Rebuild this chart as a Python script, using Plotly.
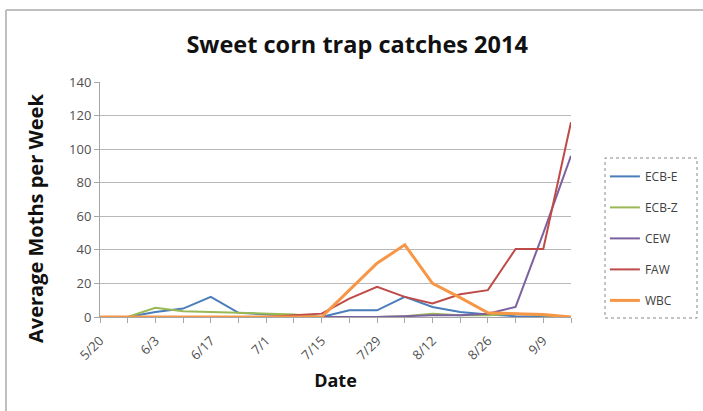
import plotly.graph_objects as go

dates = ["5/20", "5/27", "6/3", "6/10", "6/17", "6/24", "7/1", "7/8", "7/15",
         "7/22", "7/29", "8/5", "8/12", "8/19", "8/26", "9/2", "9/9", "9/16"]
ecb_e = [0, 0, 3, 5, 12, 2.5, 1.5, 1, 0, 4, 4, 12, 6, 3, 1.5, 0.5, 0, 0]
ecb_z = [0, 0, 5.5, 3.5, 3, 2.5, 2, 1.5, 0, 0, 0, 0.5, 2, 1, 1, 2, 1, 0]
cew = [0, 0, 0, 0, 0, 0, 0, 0, 0, 0, 0, 0.5, 1, 1, 2, 6, 50, 96]
faw = [0, 0, 0, 0, 0, 0, 0, 1, 2, 11, 18, 12, 8, 13.5, 16, 40.5, 40.5, 116]
wbc = [0, 0, 0, 0, 0, 0, 0, 0, 0, 16, 32, 43, 20, 11.5, 2.5, 2, 1.5, 0]

series = [
    ("ECB-E", ecb_e, "#4A7EBB", 2),
    ("ECB-Z", ecb_z, "#98B954", 2),
    ("CEW", cew, "#7D60A0", 2),
    ("FAW", faw, "#BE4B48", 2),
    ("WBC", wbc, "#F79646", 3),
]

fig = go.Figure()
for name, vals, color, w in series:
    fig.add_trace(go.Scatter(x=dates, y=vals, name=name, mode="lines",
                             line=dict(color=color, width=w),
                             legendgroup=name))

font_family = "Open Sans, Lato, sans-serif"
ticktext = [d if i % 2 == 0 else "" for i, d in enumerate(dates)]

fig.update_layout(
    width=703, height=411,
    margin=dict(l=100, r=132, t=82, b=94),
    paper_bgcolor="white", plot_bgcolor="white",
    font=dict(family=font_family, color="#404040", size=12),
    title=dict(text="<b>Sweet corn trap catches 2014</b>", x=0.508, xanchor="center",
               y=0.89, yanchor="middle",
               font=dict(size=23.5, color="#111111", family=font_family)),
    showlegend=True,
    legend=dict(x=1.072, xanchor="left", y=0.66, yanchor="top",
                traceorder="grouped", tracegroupgap=12,
                font=dict(size=12, color="#404040"),
                bgcolor="rgba(0,0,0,0)"),
    xaxis=dict(type="category", range=[0, 17], tickmode="array",
               tickvals=dates, ticktext=ticktext, tickangle=-45,
               showgrid=False, showline=True, linecolor="#A6A6A6", linewidth=1,
               ticks="outside", ticklen=5, tickcolor="#A6A6A6",
               ticklabelstandoff=5,
               tickfont=dict(size=13, color="#505050"),
               title=dict(text="<b>Date</b>", standoff=11,
                          font=dict(size=18, color="#111111"))),
    yaxis=dict(range=[0, 140], dtick=20, showgrid=True, gridcolor="#B8B8B8",
               gridwidth=1, zeroline=False, showline=True, linecolor="#A6A6A6",
               ticks="outside", ticklen=5, tickcolor="#A6A6A6",
               tickfont=dict(size=13, color="#505050")),
    annotations=[dict(text="<b>Average Moths per Week</b>", xref="paper", yref="paper",
                      x=(35 - 100) / 471, y=(317 - 219) / 235, textangle=-90,
                      showarrow=False, xanchor="center", yanchor="middle",
                      font=dict(size=20, color="#111111", family=font_family))],
)

# dotted legend border
fig.add_shape(type="rect", xref="paper", yref="paper",
              x0=(605 - 100) / 471, x1=(697 - 100) / 471,
              y0=(317 - 318) / 235, y1=(317 - 158) / 235,
              line=dict(color="#888888", width=1, dash="dot"))
# chart-area border (top and left)
fig.add_shape(type="line", xref="paper", yref="paper",
              x0=(6 - 100) / 471, x1=(703 - 100) / 471,
              y0=(317 - 10) / 235, y1=(317 - 10) / 235,
              line=dict(color="#BFBFBF", width=2))
fig.add_shape(type="line", xref="paper", yref="paper",
              x0=(6 - 100) / 471, x1=(6 - 100) / 471,
              y0=(317 - 411) / 235, y1=(317 - 10) / 235,
              line=dict(color="#BFBFBF", width=2))

fig.write_html("out.html", config={"displayModeBar": False},
               post_script="document.body.style.margin='0';")
